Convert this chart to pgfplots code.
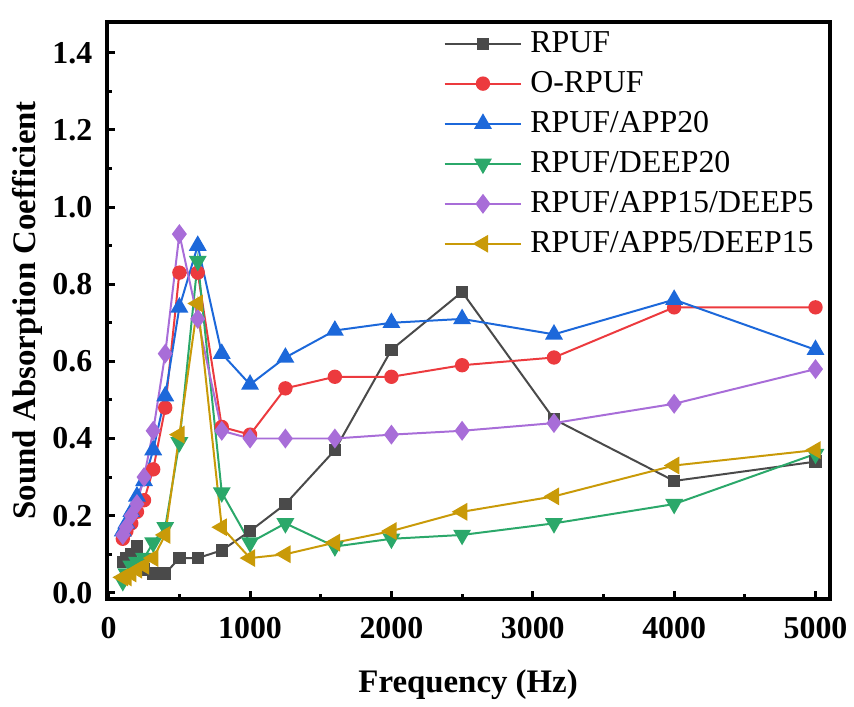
\documentclass[border=0pt]{standalone}
\usepackage{fontspec}
\setmainfont{Liberation Serif}
\usepackage{pgfplots}
\pgfplotsset{compat=1.18}
\definecolor{cgray}{HTML}{4A4A4A}
\definecolor{cred}{HTML}{EC3A3E}
\definecolor{cblue}{HTML}{1C68DA}
\definecolor{cgreen}{HTML}{2BA86A}
\definecolor{cpurple}{HTML}{A86DD8}
\definecolor{cgold}{HTML}{C99A08}
\begin{document}
\begin{tikzpicture}
\begin{axis}[
  scale only axis, width=363bp, height=289.5bp,
  xmin=-15, xmax=5100, ymin=-0.015, ymax=1.48,
  axis line style={line width=2bp},
  xtick={0,1000,2000,3000,4000,5000},
  minor xtick={500,1500,2500,3500,4500},
  ytick={0,0.2,0.4,0.6,0.8,1.0,1.2,1.4},
  minor ytick={0.1,0.3,0.5,0.7,0.9,1.1,1.3},
  xtick pos=bottom, ytick pos=left,
  tick align=inside,
  major tick length=4bp, minor tick length=2.5bp,
  tick style={line width=1.5bp, black},
  scaled ticks=false,
  /pgf/number format/assume math mode=true,
  /pgf/number format/set thousands separator={},
  yticklabel={\pgfmathprintnumber[fixed,fixed zerofill,precision=1]{\tick}},
  ticklabel style={font=\fontsize{16bp}{18bp}\selectfont\bfseries},
  xticklabel style={anchor=center, yshift=-15bp},
  yticklabel style={anchor=east, inner sep=0pt, xshift=-7bp},
  xlabel={Frequency (Hz)},
  ylabel={Sound Absorption Coefficient},
  every axis x label/.style={at={(axis description cs:0.5,-0.150)}, anchor=center, font=\fontsize{16.5bp}{19bp}\selectfont\bfseries},
  every axis y label/.style={at={(axis description cs:-0.1088,0.5)}, anchor=center, rotate=90, font=\fontsize{16.5bp}{19bp}\selectfont\bfseries},
  legend cell align=left,
  legend image code/.code={\draw[mark repeat=2,mark phase=2] plot coordinates {(0bp,0bp) (19.25bp,0bp) (38.5bp,0bp)};},
  legend style={draw=none, fill=none, at={(axis description cs:0.4656,0.987)}, anchor=north west,
    font=\fontsize{16bp}{18bp}\selectfont, row sep=6bp, column sep=3bp, inner sep=0pt,
    nodes={inner sep=1bp}},
  every axis plot/.append style={line width=1bp},
]
\addplot[cgray, mark=square*, mark size=2.6bp, mark options={solid, fill=cgray, draw=cgray}] coordinates {
(100,0.08) (125,0.09) (160,0.10) (200,0.12) (250,0.06) (315,0.05) (400,0.05) (500,0.09) (630,0.09) (800,0.11) (1000,0.16) (1250,0.23) (1600,0.37) (2000,0.63) (2500,0.78) (3150,0.45) (4000,0.29) (5000,0.34)};
\addlegendentry{RPUF}
\addplot[cred, mark=*, mark size=3.1bp, mark options={solid, fill=cred, draw=cred}] coordinates {
(100,0.14) (125,0.16) (160,0.18) (200,0.21) (250,0.24) (315,0.32) (400,0.48) (500,0.83) (630,0.83) (800,0.43) (1000,0.41) (1250,0.53) (1600,0.56) (2000,0.56) (2500,0.59) (3150,0.61) (4000,0.74) (5000,0.74)};
\addlegendentry{O-RPUF}
\addplot[cblue, mark=triangle*, mark size=4.2bp, mark options={solid, fill=cblue, draw=cblue}] coordinates {
(100,0.16) (125,0.18) (160,0.21) (200,0.25) (250,0.29) (315,0.37) (400,0.51) (500,0.74) (630,0.90) (800,0.62) (1000,0.54) (1250,0.61) (1600,0.68) (2000,0.70) (2500,0.71) (3150,0.67) (4000,0.76) (5000,0.63)};
\addlegendentry{RPUF/APP20}
\addplot[cgreen, mark=triangle*, mark size=4.2bp, mark options={solid, rotate=180, fill=cgreen, draw=cgreen}] coordinates {
(100,0.03) (125,0.05) (160,0.07) (200,0.08) (250,0.09) (315,0.13) (400,0.17) (500,0.39) (630,0.86) (800,0.26) (1000,0.13) (1250,0.18) (1600,0.12) (2000,0.14) (2500,0.15) (3150,0.18) (4000,0.23) (5000,0.36)};
\addlegendentry{RPUF/DEEP20}
\addplot[cpurple, mark=diamond*, mark size=4.2bp, mark options={solid, fill=cpurple, draw=cpurple}] coordinates {
(100,0.15) (125,0.17) (160,0.20) (200,0.23) (250,0.30) (315,0.42) (400,0.62) (500,0.93) (630,0.71) (800,0.42) (1000,0.40) (1250,0.40) (1600,0.40) (2000,0.41) (2500,0.42) (3150,0.44) (4000,0.49) (5000,0.58)};
\addlegendentry{RPUF/APP15/DEEP5}
\addplot[cgold, mark=triangle*, mark size=4.2bp, mark options={solid, rotate=90, fill=cgold, draw=cgold}] coordinates {
(100,0.04) (125,0.04) (160,0.05) (200,0.06) (250,0.07) (315,0.09) (400,0.15) (500,0.41) (630,0.75) (800,0.17) (1000,0.09) (1250,0.10) (1600,0.13) (2000,0.16) (2500,0.21) (3150,0.25) (4000,0.33) (5000,0.37)};
\addlegendentry{RPUF/APP5/DEEP15}
\end{axis}
\path (current axis.north east) ++(10.5bp,11bp);
\path (current axis.south west) ++(-53.5bp,-49bp);
\end{tikzpicture}
\end{document}
